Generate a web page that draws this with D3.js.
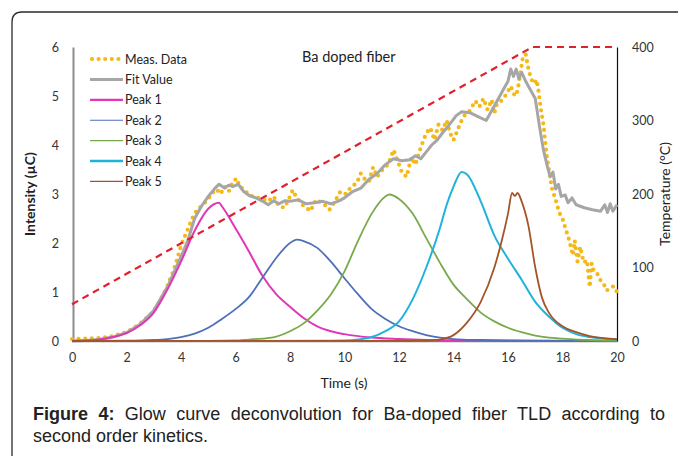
<!DOCTYPE html>
<html><head><meta charset="utf-8">
<script src="https://cdn.jsdelivr.net/npm/d3@7"></script>
<style>
html,body{margin:0;padding:0;background:#fff;}
#wrap{position:relative;width:678px;height:456px;overflow:hidden;}
svg{position:absolute;left:0;top:0;}
.cap{position:absolute;left:33px;width:632px;font-family:"Liberation Sans",Arial,sans-serif;font-size:18px;color:#222;line-height:22px;}
</style></head>
<body><div id="wrap"><svg id="chart" width="678" height="456"></svg>
<div class="cap" id="cap1" style="top:403px;text-align:justify;text-align-last:justify;"><b>Figure 4:</b> Glow curve deconvolution for Ba-doped fiber TLD according to</div>
<div class="cap" id="cap2" style="top:425px;">second order kinetics.</div>
</div>
<script>
// ---------- data ----------
const xTicks = [0,2,4,6,8,10,12,14,16,18,20];
const yTicks = [0,1,2,3,4,5,6];
const tTicks = [0,100,200,300,400];
const seriesNames = ["Meas. Data","Fit Value","Peak 1","Peak 2","Peak 3","Peak 4","Peak 5"];

const measData = [[0,0.04],[0.5,0.05],[1,0.06],[1.5,0.1],[2,0.18],[2.3,0.28],[2.6,0.4],[2.9,0.55],[3.1,0.7],[3.3,0.9],[3.5,1.12],[3.7,1.4],[3.85,1.65],[4.0,1.95],[4.15,2.15],[4.3,2.35],[4.45,2.55],[4.6,2.68],[4.8,2.78],[5.0,2.9],[5.15,3.02],[5.3,3.1],[5.45,3.0],[5.6,3.15],[5.75,3.05],[5.9,3.25],[6.05,3.32],[6.15,3.15],[6.3,3.1],[6.5,2.98],[6.75,2.93],[7.0,2.9],[7.2,2.85],[7.4,2.95],[7.6,2.75],[7.8,2.72],[8.0,2.95],[8.1,3.08],[8.25,2.92],[8.45,2.78],[8.6,2.72],[8.75,2.65],[8.95,2.88],[9.2,2.82],[9.45,2.68],[9.65,2.85],[9.85,3.05],[10.05,3.0],[10.25,3.15],[10.45,3.22],[10.6,3.42],[10.75,3.3],[10.9,3.25],[11.05,3.55],[11.2,3.35],[11.4,3.5],[11.6,3.6],[11.8,3.9],[11.95,3.68],[12.1,3.45],[12.28,3.35],[12.45,3.75],[12.6,3.6],[12.77,3.9],[12.9,4.1],[13.0,4.24],[13.15,4.35],[13.3,4.1],[13.45,4.42],[13.6,4.3],[13.75,4.5],[13.87,4.25],[14.0,4.1],[14.15,4.3],[14.25,4.45],[14.4,4.6],[14.6,4.7],[14.8,4.9],[14.95,4.78],[15.1,4.95],[15.25,4.72],[15.4,4.92],[15.5,4.65],[15.6,4.85],[15.8,4.92],[15.95,5.05],[16.1,5.2],[16.25,5.0],[16.35,5.1],[16.45,5.45],[16.55,5.8],[16.65,5.85],[16.75,5.55],[16.85,5.35],[16.95,5.25],[17.05,5.33],[17.12,5.1],[17.2,4.75],[17.3,4.42],[17.37,4.05],[17.43,3.75],[17.52,3.42],[17.62,3.1],[17.75,2.88],[17.88,2.62],[18.0,2.5],[18.12,2.28],[18.25,2.05],[18.38,1.75],[18.45,2.05],[18.55,1.62],[18.65,1.92],[18.78,1.6],[18.9,1.65],[19.0,1.1],[19.07,1.58],[19.15,1.42],[19.27,1.38],[19.38,1.25],[19.5,1.18],[19.62,1.03],[19.75,1.08],[19.88,1.12],[20.0,1.0]];

const fitValue = [[0,0.0],[0.5,0.01],[1,0.03],[1.5,0.08],[2,0.17],[2.5,0.34],[3,0.62],[3.5,1.1],[4,1.72],[4.25,2.05],[4.5,2.5],[4.75,2.75],[5,2.95],[5.25,3.12],[5.4,3.2],[5.6,3.12],[5.75,3.18],[5.9,3.15],[6.1,3.2],[6.3,3.05],[6.5,2.97],[6.75,2.92],[7,2.85],[7.2,2.78],[7.4,2.86],[7.6,2.8],[7.8,2.86],[8,2.85],[8.3,2.88],[8.6,2.8],[8.9,2.82],[9.2,2.85],[9.5,2.8],[9.8,2.86],[10,2.92],[10.3,3.05],[10.6,3.12],[10.9,3.3],[11.2,3.42],[11.5,3.6],[11.8,3.72],[12.1,3.68],[12.4,3.7],[12.6,3.78],[12.8,3.72],[13,3.86],[13.2,4.0],[13.4,4.1],[13.6,4.25],[13.8,4.38],[14.1,4.6],[14.3,4.68],[14.6,4.66],[14.9,4.58],[15.2,4.5],[15.4,4.7],[15.6,4.9],[15.8,5.1],[16.0,5.3],[16.1,5.55],[16.2,5.4],[16.3,5.55],[16.4,5.35],[16.5,5.48],[16.65,5.3],[16.8,5.15],[17.0,4.95],[17.15,4.4],[17.3,3.9],[17.45,3.55],[17.55,3.35],[17.65,3.45],[17.75,3.1],[17.85,3.2],[17.95,2.95],[18.1,2.98],[18.2,2.82],[18.35,2.92],[18.5,2.78],[18.8,2.72],[19.1,2.68],[19.4,2.65],[19.55,2.78],[19.65,2.62],[19.75,2.8],[19.85,2.65],[20,2.78]];

const peak1 = [[0,0],[0.5,0.01],[1,0.03],[1.5,0.08],[2,0.16],[2.5,0.32],[3,0.58],[3.5,1.05],[4,1.62],[4.5,2.25],[5,2.7],[5.4,2.82],[5.5,2.75],[6,2.3],[6.5,1.82],[7,1.32],[7.5,0.95],[8,0.7],[8.5,0.47],[9,0.3],[9.5,0.2],[10,0.14],[11,0.07],[12,0.04],[13,0.02],[14,0.01],[16,0.005],[20,0]];
const peak2 = [[0,0],[2,0.005],[3,0.02],[3.5,0.04],[4,0.08],[4.5,0.15],[5,0.27],[5.5,0.45],[6,0.65],[6.5,0.9],[7,1.3],[7.5,1.7],[8,2.0],[8.25,2.07],[8.5,2.04],[9,1.9],[9.5,1.62],[10,1.28],[10.5,0.95],[11,0.65],[11.5,0.45],[12,0.3],[12.5,0.2],[13,0.12],[13.5,0.07],[14,0.04],[15,0.02],[16,0.01],[18,0.005],[20,0]];
const peak3 = [[0,0],[5,0.003],[6,0.01],[6.5,0.03],[7,0.05],[7.5,0.09],[8,0.2],[8.5,0.36],[9,0.62],[9.5,0.95],[10,1.42],[10.5,2.05],[11,2.6],[11.5,2.95],[11.65,2.99],[12,2.9],[12.5,2.6],[13,2.1],[13.5,1.6],[14,1.15],[14.5,0.85],[15,0.58],[15.5,0.4],[16,0.27],[16.5,0.18],[17,0.11],[17.5,0.07],[18,0.05],[19,0.02],[20,0.01]];
const peak4 = [[0,0],[9,0.003],[10,0.01],[10.5,0.03],[11,0.08],[11.5,0.2],[12,0.4],[12.5,0.85],[13,1.5],[13.5,2.3],[13.75,2.78],[14,3.15],[14.3,3.45],[14.5,3.4],[15,2.85],[15.5,2.15],[16,1.68],[16.5,1.25],[17,0.8],[17.5,0.5],[18,0.27],[18.5,0.14],[19,0.08],[19.5,0.05],[20,0.03]];
const peak5 = [[0,0],[12,0.002],[12.5,0.005],[13,0.01],[13.5,0.03],[14,0.12],[14.5,0.38],[15,0.8],[15.5,1.5],[15.75,2.0],[16,2.6],[16.15,3.02],[16.25,2.96],[16.35,3.02],[16.5,2.85],[16.75,2.35],[17,1.5],[17.25,0.88],[17.5,0.58],[18,0.3],[18.5,0.18],[19,0.1],[19.5,0.06],[20,0.04]];
const temperature = [[0,50],[16.9,400],[20,400]];

// ---------- scales ----------
const svg = d3.select("#chart");
const x = d3.scaleLinear().domain([0,20]).range([72,617]);
const y = d3.scaleLinear().domain([0,6]).range([341,47]);
const yT = d3.scaleLinear().domain([0,400]).range([341,47]);
const FONT = "Lato, 'Open Sans', sans-serif";
const fmt = d3.format("d");

// frame
svg.append("path")
  .attr("d","M12,470 L12,22 Q12,12 22,12 L690,12")
  .attr("fill","none").attr("stroke","#2a2a2a").attr("stroke-width",1.3);

// axes
const gx = svg.append("g").attr("transform","translate(0,341)")
  .call(d3.axisBottom(x).tickValues(xTicks).tickFormat(fmt).tickSize(0).tickPadding(12));
gx.select(".domain").attr("stroke","#7f7f7f").attr("stroke-width",1.5);
const gy = svg.append("g").attr("transform","translate(73,0)")
  .call(d3.axisLeft(y).tickValues(yTicks).tickFormat(fmt).tickSize(0).tickPadding(14));
gy.select(".domain").attr("stroke","#8c8c8c").attr("stroke-width",2);
const gr = svg.append("g").attr("transform","translate(617,0)")
  .call(d3.axisRight(yT).tickValues(tTicks).tickFormat(fmt).tickSize(0).tickPadding(15));
gr.select(".domain").attr("stroke","#111").attr("stroke-width",1.2);
svg.selectAll(".tick text").attr("font-family",FONT).attr("font-size",12.5).attr("fill","#333");

// axis titles
svg.append("text").attr("x",344).attr("y",388).attr("text-anchor","middle")
  .attr("font-family",FONT).attr("font-size",14).attr("fill","#222").text("Time (s)");
svg.append("text").attr("transform","translate(35,194) rotate(-90)").attr("text-anchor","middle")
  .attr("font-family",FONT).attr("font-size",14).attr("font-weight","bold").attr("fill","#222").text("Intensity (µC)");
svg.append("text").attr("transform","translate(670,194) rotate(-90)").attr("text-anchor","middle")
  .attr("font-family",FONT).attr("font-size",14).attr("fill","#222").text("Temperature (°C)");
svg.append("text").attr("x",302).attr("y",62)
  .attr("font-family",FONT).attr("font-size",14.5).attr("fill","#222").text("Ba doped fiber");

// lines
const line = d3.line().x(d=>x(d[0])).y(d=>y(d[1]));
const smooth = d3.line().x(d=>x(d[0])).y(d=>y(d[1])).curve(d3.curveMonotoneX);
const lineT = d3.line().x(d=>x(d[0])).y(d=>yT(d[1]));

const styles = [
  {c:"#f5b917", w:4.2, dash:"0 6.6", lw:4.2},
  {c:"#a6a6a6", w:3, lw:3},
  {c:"#e236b6", w:2, lw:2.2},
  {c:"#4f6fb8", w:1.8, lw:1.1},
  {c:"#78aa4c", w:1.8, lw:1.4},
  {c:"#1fb3db", w:2, lw:2.5},
  {c:"#a4542a", w:1.8, lw:1.1}
];
const peaks = [peak1,peak2,peak3,peak4,peak5];

svg.append("path").datum(measData).attr("d",line).attr("fill","none")
  .attr("stroke",styles[0].c).attr("stroke-width",styles[0].w)
  .attr("stroke-dasharray",styles[0].dash).attr("stroke-linecap","round");
svg.append("path").datum(fitValue).attr("d",line).attr("fill","none")
  .attr("stroke",styles[1].c).attr("stroke-width",styles[1].w).attr("stroke-linejoin","round");
peaks.forEach((p,i)=>{
  svg.append("path").datum(p).attr("d",smooth).attr("fill","none")
    .attr("stroke",styles[i+2].c).attr("stroke-width",styles[i+2].w).attr("stroke-linejoin","round");
});
svg.append("path").datum(temperature).attr("d",lineT).attr("fill","none")
  .attr("stroke","#e0202c").attr("stroke-width",2.2).attr("stroke-dasharray","7 5");

// legend
const lg = svg.append("g");
seriesNames.forEach((n,i)=>{
  const yy = 59 + i*20.4;
  const l = lg.append("line").attr("x1",90).attr("x2",123).attr("y1",yy).attr("y2",yy)
    .attr("stroke",styles[i].c).attr("stroke-width",styles[i].lw);
  if(styles[i].dash) l.attr("stroke-dasharray",styles[i].dash).attr("stroke-linecap","round").attr("x1",92);
  lg.append("text").attr("x",125).attr("y",yy+4.5).attr("font-family",FONT)
    .attr("font-size",12.5).attr("fill","#222").text(n);
});
</script>
</body></html>
